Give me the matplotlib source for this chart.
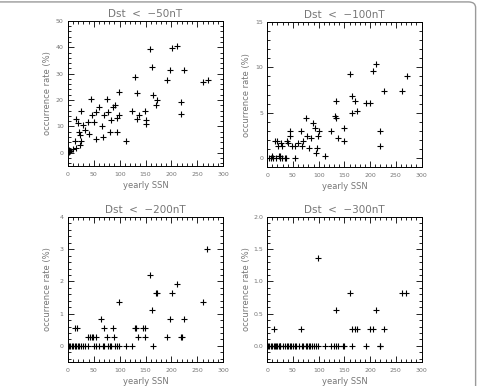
import matplotlib
matplotlib.use("Agg")
import matplotlib.pyplot as plt
from matplotlib.ticker import MultipleLocator, AutoMinorLocator, FormatStrFormatter
from matplotlib.patches import FancyBboxPatch

# yearly SSN vs. occurrence rate (%) of days below each Dst threshold
ssn_50 = [2, 3, 4.5, 10, 13, 15, 15.5, 20, 21, 23, 24, 25, 25, 30, 34, 39, 41, 45, 47,
          50, 54, 55, 61, 65, 67, 70, 76, 77, 81, 84, 88, 91, 94, 94, 98, 98, 113, 123,
          130, 133, 133, 137, 148, 150, 150, 159, 163, 164, 171, 173, 192, 198, 202,
          211, 219, 219, 225, 261, 270]
rate_50 = [1.2, 0.3, 0.8, 1.5, 4.4, 1.9, 12.8, 11.2, 8.0, 2.8, 6.8, 15.7, 4.6, 10.7, 8.6,
           11.8, 7.0, 20.5, 14.5, 11.5, 5.1, 15.5, 17.4, 10.1, 6.1, 14.5, 20.3, 15.6, 8.0,
           12.5, 17.4, 18.0, 13.3, 7.8, 14.4, 23.2, 4.6, 16.0, 28.6, 22.6, 12.8, 14.2,
           15.7, 12.4, 10.9, 39.3, 32.6, 21.8, 18.2, 19.9, 27.7, 31.5, 39.6, 40.6, 19.3,
           14.7, 31.5, 26.7, 27.7]

ssn_100 = [3, 8, 10, 12, 16, 17, 19, 21, 22, 24, 24, 27, 28, 29, 34, 37, 38, 40, 45, 45,
           48, 54, 54, 59, 65, 67, 70, 76, 77, 81, 85, 89, 93, 95, 96, 98, 101, 113, 123,
           132, 133, 134, 137, 149, 150, 160, 164, 164, 171, 175, 192, 199, 205, 212, 219,
           220, 226, 262, 271]
rate_100 = [0, 0, 0.27, 0, 1.92, 0, 1.92, 1.37, 0.27, 0.27, 0, 1.64, 0, 1.37, 0, 0, 1.92,
            1.64, 3.01, 2.47, 1.37, 0, 1.37, 1.64, 3.01, 1.37, 1.92, 4.38, 2.47, 1.1, 2.19,
            3.84, 3.29, 0.55, 1.1, 2.47, 3.01, 0.27, 3.01, 4.66, 4.38, 6.3, 2.19, 3.29,
            1.92, 9.32, 6.85, 4.93, 6.3, 5.21, 6.03, 6.03, 9.59, 10.41, 1.37, 3.01, 7.4,
            7.4, 9.04]

ssn_200 = [2, 4, 8, 10, 13, 14, 16, 17, 20, 22, 25, 30, 34, 38, 39, 43, 47, 49, 50, 54,
           55, 61, 64, 67, 69, 70, 75, 77, 81, 84, 87, 90, 91, 94, 98, 99, 113, 123, 130,
           132, 135, 146, 148, 149, 159, 162, 164, 170, 172, 192, 198, 202, 210, 218, 220,
           224, 261, 269]
rate_200 = [0, 0, 0, 0, 0, 0.55, 0, 0.55, 0, 0, 0, 0, 0, 0.27, 0, 0.27, 0.27, 0.27, 0,
            0.27, 0, 0, 0.82, 0, 0.55, 0, 0.27, 0, 0, 0, 0.55, 0.27, 0, 0, 0, 1.37, 0, 0,
            0.55, 0.55, 0.27, 0.55, 0.55, 0.27, 2.19, 1.1, 0, 1.64, 1.64, 0.27, 0.82, 1.64,
            1.92, 0.27, 0.27, 0.82, 1.37, 3.01]

ssn_300 = [2, 4, 8, 10, 13, 14, 15, 17, 20, 22, 24, 25, 30, 34, 38, 41, 45, 47, 50, 54,
           55, 61, 65, 67, 70, 76, 77, 81, 84, 88, 91, 94, 98, 99, 113, 123, 130, 133, 134,
           137, 148, 150, 161, 164, 164, 171, 175, 192, 200, 205, 211, 219, 220, 226, 262,
           270]
rate_300 = [0, 0, 0, 0, 0, 0.27, 0, 0, 0, 0, 0, 0, 0, 0, 0, 0, 0, 0, 0, 0, 0, 0, 0.27, 0,
            0, 0, 0, 0, 0, 0, 0, 0, 0, 1.37, 0, 0, 0, 0, 0.55, 0, 0, 0, 0.82, 0, 0.27,
            0.27, 0.27, 0, 0.27, 0.27, 0.55, 0, 0, 0.27, 0.82, 0.82]

panels = [
    ("Dst  <  \u221250nT", ssn_50, rate_50, (-5, 50), 10, "%d"),
    ("Dst  <  \u2212100nT", ssn_100, rate_100, (-1, 15), 5, "%d"),
    ("Dst  <  \u2212200nT", ssn_200, rate_200, (-0.5, 4), 1, "%d"),
    ("Dst  <  \u2212300nT", ssn_300, rate_300, (-0.25, 2.0), 0.5, "%.1f"),
]

# axes boxes in figure fractions [left, bottom, width, height]
boxes = [
    [0.142, 0.570, 0.325, 0.376],
    [0.559, 0.567, 0.323, 0.376],
    [0.142, 0.062, 0.325, 0.376],
    [0.559, 0.062, 0.323, 0.376],
]

gray = "#767676"
fig = plt.figure(figsize=(4.78, 3.86), dpi=100)

for (title, x, y, ylim, ymaj, fmt), box in zip(panels, boxes):
    ax = fig.add_axes(box)
    ax.plot(x, y, "+", color="black", ms=4.8, mew=0.8)
    ax.set_xlim(0, 300)
    ax.set_ylim(*ylim)
    ax.xaxis.set_major_locator(MultipleLocator(50))
    ax.xaxis.set_minor_locator(AutoMinorLocator(5))
    ax.yaxis.set_major_locator(MultipleLocator(ymaj))
    ax.yaxis.set_minor_locator(AutoMinorLocator(5))
    ax.yaxis.set_major_formatter(FormatStrFormatter(fmt))
    ax.tick_params(which="both", direction="in", top=True, right=True,
                   labelsize=4.5, labelcolor=gray, width=0.6)
    ax.tick_params(axis="y", pad=3)
    ax.tick_params(axis="x", pad=4)
    ax.tick_params(which="major", length=4)
    ax.tick_params(which="minor", length=2)
    for s in ax.spines.values():
        s.set_linewidth(0.7)
    ax.set_title(title, fontsize=7.5, color=gray, pad=3)
    ax.set_xlabel("yearly SSN", fontsize=6, color=gray, labelpad=3)
    ax.set_ylabel("occurrence rate (%)", fontsize=6, color=gray)
    ax.yaxis.set_label_coords(-0.105, 0.5)

# rounded frame around the figure
frame = FancyBboxPatch((-0.05, -0.05), 1.045, 1.045, boxstyle="round,pad=0,rounding_size=0.015",
                       transform=fig.transFigure, fill=False, edgecolor="#9a9a9a", linewidth=1.0)
fig.patches.append(frame)

fig.savefig("out.png", dpi=100)
